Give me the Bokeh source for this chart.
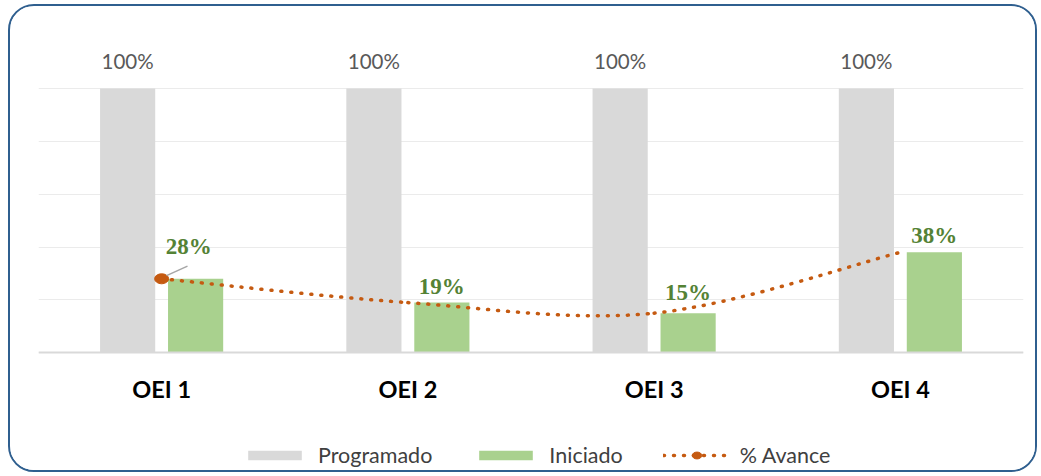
from bokeh.plotting import figure
from bokeh.models import Range1d, FixedTicker, Legend, LegendItem, ColumnDataSource
from bokeh.core.properties import value
from bokeh.embed import file_html
from bokeh.resources import INLINE

# ---- data ----
categories = ["OEI 1", "OEI 2", "OEI 3", "OEI 4"]
programado = [100, 100, 100, 100]
iniciado = [28, 19, 15, 38]
avance = [28, 19, 15, 38]
prog_labels = ["100%", "100%", "100%", "100%"]
ini_labels = ["28%", "19%", "15%", "38%"]
y_ticks = [0, 20, 40, 60, 80, 100, 120]

# ---- layout / style ----
label_lift = [-32, -16, -21, -17]   # px offset of green labels above bar tops
GREY = "#D9D9D9"
GREEN = "#A9D18E"
GREEN_TXT = "#548235"
ORANGE = "#C55A11"

n = len(categories)
xc = [i + 0.5 for i in range(n)]
bar_w = 0.224
off = 0.138
x_prog = [x - off for x in xc]
x_ini = [x + off for x in xc]

p = figure(width=1029, height=468, x_range=Range1d(0, n), y_range=Range1d(-44.5, 120),
           output_backend="svg", toolbar_location=None,
           min_border_left=28, min_border_right=16, min_border_top=29, min_border_bottom=4)
p.styles = {"border": "2px solid #2F5F8F", "border-radius": "26px", "overflow": "hidden",
            "margin-left": "8px", "margin-top": "4px"}
p.outline_line_color = None
p.background_fill_color = "white"
p.border_fill_color = "white"

# axes
p.yaxis.visible = False
p.yaxis.ticker = FixedTicker(ticks=y_ticks)
p.ygrid.ticker = FixedTicker(ticks=y_ticks)
p.ygrid.grid_line_color = "#EBEBEB"
p.ygrid.grid_line_width = 1
p.xgrid.visible = False
p.xaxis.fixed_location = 0
p.xaxis.ticker = FixedTicker(ticks=xc)
p.xaxis.major_label_overrides = {x: c for x, c in zip(xc, categories)}
p.xaxis.axis_line_color = GREY
p.xaxis.axis_line_width = 2
p.xaxis.major_tick_line_color = None
p.xaxis.minor_tick_line_color = None
p.xaxis.major_label_text_font = "Lato"
p.xaxis.major_label_text_font_style = "bold"
p.xaxis.major_label_text_font_size = "23.5px"
p.xaxis.major_label_text_color = "#000000"
p.xaxis.major_label_standoff = 16

# bars
r_prog = p.vbar(x=x_prog, top=programado, width=bar_w, fill_color=GREY, line_color=None)
r_ini = p.vbar(x=x_ini, top=iniciado, width=bar_w, fill_color=GREEN, line_color=None)

# smooth line (Catmull-Rom style Bezier between the data points)
pts = list(zip(xc, avance))
x0s, y0s, x1s, y1s, cx0s, cy0s, cx1s, cy1s = [], [], [], [], [], [], [], []
for i in range(n - 1):
    pm = pts[i - 1] if i > 0 else pts[i]
    pa = pts[i]
    pb = pts[i + 1]
    pn = pts[i + 2] if i + 2 < n else pts[i + 1]
    x0s.append(pa[0]); y0s.append(pa[1])
    x1s.append(pb[0]); y1s.append(pb[1])
    cx0s.append(pa[0] + (pb[0] - pm[0]) / 6); cy0s.append(pa[1] + (pb[1] - pm[1]) / 6)
    cx1s.append(pb[0] - (pn[0] - pa[0]) / 6); cy1s.append(pb[1] - (pn[1] - pa[1]) / 6)
r_line = p.bezier(x0=x0s, y0=y0s, x1=x1s, y1=y1s, cx0=cx0s, cy0=cy0s, cx1=cx1s, cy1=cy1s,
                  line_color=ORANGE, line_width=3.5, line_dash="1 9", line_cap="round")
r_mark = p.ellipse(x=[xc[0]], y=[avance[0]], width=14, height=10, width_units="screen",
                   height_units="screen", fill_color=ORANGE, line_color=ORANGE)

# leader line for first label
p.segment(x0=[xc[0] + 0.02], y0=[avance[0] + 1.2], x1=[xc[0] + 0.105], y1=[avance[0] + 4.8],
          line_color="#A6A6A6", line_width=1.5)

# labels
src_prog = ColumnDataSource(dict(x=x_prog, y=programado, t=prog_labels))
p.text(x="x", y="y", text="t", source=src_prog, text_align="center", text_baseline="alphabetic",
       y_offset=-27, text_font=value("Lato"), text_font_size="20.5px", text_color="#595959")

src_ini = ColumnDataSource(dict(x=[xc[0] + 0.11] + x_ini[1:], y=iniciado, t=ini_labels, dy=label_lift))
p.text(x="x", y="y", text="t", source=src_ini, text_align="center", text_baseline="alphabetic",
       y_offset="dy", text_font=value("Liberation Serif"), text_font_style="bold",
       text_font_size="23px", text_color=GREEN_TXT)

legend = Legend(items=[LegendItem(label="Programado", renderers=[r_prog]),
                       LegendItem(label="Iniciado", renderers=[r_ini]),
                       LegendItem(label="% Avance", renderers=[r_line, r_mark])],
                orientation="horizontal", location=(203, 2),
                glyph_width=67, glyph_height=12, label_standoff=10, spacing=40,
                padding=0, margin=0, border_line_color=None, background_fill_alpha=0,
                label_text_font="Lato", label_text_font_size="21.5px", label_text_color="#404040",
                label_height=22)
p.add_layout(legend, "center")

open("out.html", "w").write(file_html(p, INLINE))
